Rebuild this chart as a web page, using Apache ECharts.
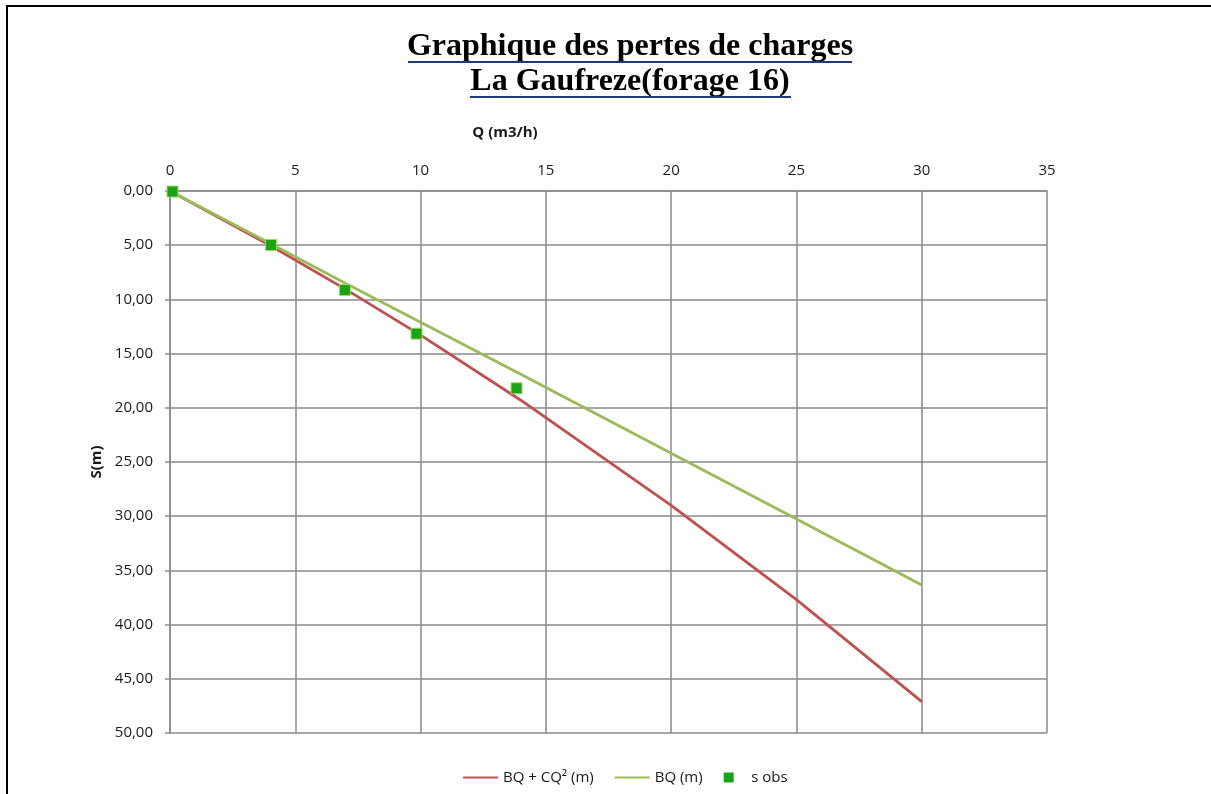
<!DOCTYPE html>
<html>
<head>
<meta charset="utf-8">
<title>Graphique des pertes de charges</title>
<script src="https://cdn.jsdelivr.net/npm/echarts@6/dist/echarts.min.js"></script>
<style>
  html, body { margin: 0; padding: 0; background: #fff; }
  #chart { width: 1211px; height: 794px; }
</style>
</head>
<body>
<div id="chart"></div>
<script>
// débits (m3/h) des courbes théoriques
const qLine = [0, 4, 7, 10, 14, 20, 25, 30]
// rabattement BQ + CQ² (m)
const sQuad = [0, 5.03, 9.05, 13.3, 19.3, 29.0, 37.7, 47.1]
// rabattement BQ (m)
const sLin = [0, 4.85, 8.5, 12.1, 16.9, 24.2, 30.25, 36.35]
// mesures observées
const qObs = [0.1, 4.03, 6.98, 9.84, 13.83]
const sObs = [0.05, 4.98, 9.13, 13.16, 18.2]

const fontUI = '"Open Sans", "Noto Sans", sans-serif'
const fontTitle = 'bold 32px "Liberation Serif", "Times New Roman", serif'

const pairs = (xs, ys) => xs.map((x, i) => [x, ys[i]])

const chart = echarts.init(document.getElementById('chart'))

const option = {
    animation: false,
    backgroundColor: '#fff',
    textStyle: { fontFamily: fontUI },
    grid: { left: 170, right: 164, top: 191, bottom: 61 },
    xAxis: {
        type: 'value',
        position: 'top',
        min: 0, max: 35, interval: 5,
        axisLine: { show: true, lineStyle: { color: '#8a8a8a', width: 1.5 } },
        axisTick: { show: false },
        axisLabel: { color: '#1a1a1a', fontSize: 15, margin: 13 },
        splitLine: { show: true, lineStyle: { color: '#8a8a8a', width: 1.5 } }
    },
    yAxis: {
        type: 'value',
        inverse: true,
        min: 0, max: 50, interval: 5,
        name: 'S(m)',
        nameLocation: 'middle',
        nameGap: 63,
        nameRotate: 90,
        nameTextStyle: { fontSize: 15, fontWeight: 'bold', color: '#1a1a1a' },
        axisLine: { show: true, lineStyle: { color: '#8a8a8a', width: 1.5 } },
        axisTick: { show: true, length: 5, lineStyle: { color: '#8a8a8a', width: 1.5 } },
        axisLabel: {
            color: '#1a1a1a', fontSize: 15, margin: 17,
            formatter: v => v.toFixed(2).replace('.', ',')
        },
        splitLine: { show: true, lineStyle: { color: '#8a8a8a', width: 1.5 } }
    },
    legend: {
        bottom: 4,
        left: 458,
        itemGap: 21,
        itemWidth: 35,
        itemHeight: 10,
        textStyle: { fontSize: 15, color: '#1a1a1a' },
        data: [
            { name: 'BQ + CQ² (m)', icon: 'path://M0,0 L35,0 L35,2 L0,2 Z' },
            { name: 'BQ (m)', icon: 'path://M0,0 L35,0 L35,2 L0,2 Z' },
            { name: 's obs', icon: 'path://M0,0 L10,0 L10,10 L0,10 Z', itemStyle: { borderWidth: 0 } }
        ]
    },
    graphic: [
        { type: 'polyline', shape: { points: [[7, 794], [7, 6], [1211, 6]] }, style: { stroke: '#000', lineWidth: 2, fill: null } },
        {
            type: 'text', x: 630, y: 31,
            style: { text: 'Graphique des pertes de charges', font: fontTitle, fill: '#000', align: 'center' }
        },
        {
            type: 'text', x: 630, y: 66,
            style: { text: 'La Gaufreze(forage 16)', font: fontTitle, fill: '#000', align: 'center' }
        },
        { type: 'line', shape: { x1: 408, y1: 62, x2: 852, y2: 62 }, style: { stroke: '#1f3a78', lineWidth: 2 } },
        { type: 'line', shape: { x1: 470, y1: 97, x2: 791, y2: 97 }, style: { stroke: '#1f3a78', lineWidth: 2 } },
        {
            type: 'text', x: 505, y: 133,
            style: { text: 'Q (m3/h)', font: 'bold 15px "Open Sans", sans-serif', fill: '#1a1a1a', align: 'center', verticalAlign: 'middle' }
        }
    ],
    series: [
        {
            name: 'BQ + CQ² (m)',
            type: 'line',
            data: pairs(qLine, sQuad),
            showSymbol: false,
            symbol: 'none',
            lineStyle: { color: '#c0504d', width: 2.8 },
            itemStyle: { color: '#c0504d' },
            z: 2
        },
        {
            name: 'BQ (m)',
            type: 'line',
            data: pairs(qLine, sLin),
            showSymbol: false,
            symbol: 'none',
            lineStyle: { color: '#9bbb59', width: 2.8 },
            itemStyle: { color: '#9bbb59' },
            z: 3
        },
        {
            name: 's obs',
            type: 'scatter',
            data: pairs(qObs, sObs),
            symbol: 'rect',
            symbolSize: 11,
            itemStyle: { color: '#1aa314', borderColor: '#a6d56a', borderWidth: 1, opacity: 1 },
            z: 4
        }
    ]
}

chart.setOption(option)
</script>
</body>
</html>
